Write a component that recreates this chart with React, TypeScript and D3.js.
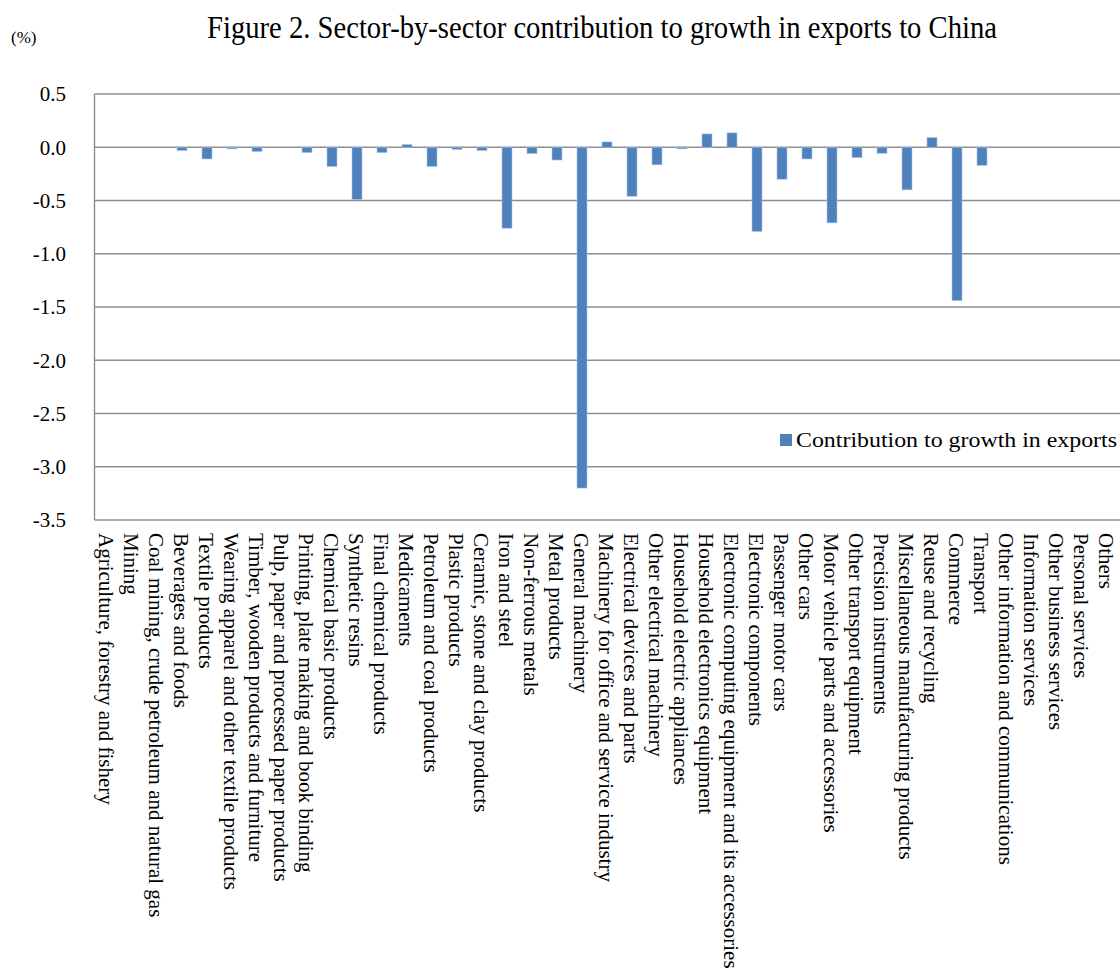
import React from "react";
import * as d3 from "d3";

const categories: string[] = [
  "Agriculture, forestry and fishery",
  "Mining",
  "Coal mining, crude petroleum and natural gas",
  "Beverages and foods",
  "Textile products",
  "Wearing apparel and other textile products",
  "Timber, wooden products and furniture",
  "Pulp, paper and processed paper products",
  "Printing, plate making and book binding",
  "Chemical basic products",
  "Synthetic resins",
  "Final chemical products",
  "Medicaments",
  "Petroleum and coal products",
  "Plastic products",
  "Ceramic, stone and clay products",
  "Iron and steel",
  "Non-ferrous metals",
  "Metal products",
  "General machinery",
  "Machinery for office and service industry",
  "Electrical devices and parts",
  "Other electrical machinery",
  "Household electric appliances",
  "Household electronics equipment",
  "Electronic computing equipment and its accessories",
  "Electronic components",
  "Passenger motor cars",
  "Other cars",
  "Motor vehicle parts and accessories",
  "Other transport equipment",
  "Precision instruments",
  "Miscellaneous manufacturing products",
  "Reuse and recycling",
  "Commerce",
  "Transport",
  "Other information and communications",
  "Information services",
  "Other business services",
  "Personal services",
  "Others",
];

const contribution: number[] = [
  0, 0, 0, -0.03, -0.11, -0.015, -0.04, 0, -0.05, -0.18,
  -0.49, -0.05, 0.025, -0.18, -0.02, -0.03, -0.76, -0.06, -0.12, -3.2,
  0.05, -0.46, -0.165, -0.015, 0.125, 0.135, -0.79, -0.3, -0.11, -0.71,
  -0.097, -0.056, -0.4, 0.09, -1.44, -0.17, 0, 0, 0, 0, 0,
];

const yTicks: number[] = [0.5, 0, -0.5, -1, -1.5, -2, -2.5, -3, -3.5];

const seriesName = "Contribution to growth in exports";
const titleText = "Figure 2. Sector-by-sector contribution to growth in exports to China";
const unitText = "(%)";

const FONT = "'Liberation Serif', 'Times New Roman', serif";

export default function App() {
  const W = 1120;
  const H = 975;
  const left = 94.5;
  const right = 1119.5;
  const top = 94;
  const bottom = 520;

  const xc = d3.scaleBand<string>().domain(categories).range([left, right]);
  const y = d3.scaleLinear().domain([-3.5, 0.5]).range([bottom, top]);
  const fmt = (t: number) => (Math.abs(t) < 1e-9 ? "0.0" : t.toFixed(1));
  const bw = 10;
  const grid = "#8e8e8e";

  return (
    <svg
      width={W}
      height={H}
      style={{ position: "absolute", left: 0, top: 0, background: "#fff" }}
      fontFamily={FONT}
    >
      <rect x={0} y={0} width={W} height={H} fill="#fff" />
      <text x={207} y={38} fontSize={31} textLength={790} lengthAdjust="spacingAndGlyphs" fill="#000">
        {titleText}
      </text>
      <text x={11} y={43} fontSize={17} fill="#000">
        {unitText}
      </text>

      {yTicks.map((t) => (
        <g key={t}>
          <line x1={left} x2={W} y1={y(t)} y2={y(t)} stroke={grid} strokeWidth={1.4} />
          <text x={66} y={y(t)} dy="0.35em" textAnchor="end" fontSize={21} fill="#000">
            {fmt(t)}
          </text>
        </g>
      ))}
      <line x1={left} x2={left} y1={top} y2={bottom} stroke={grid} strokeWidth={1.4} />

      {categories.map((c, i) => {
        const v = contribution[i];
        if (v === 0) return null;
        const cx = (xc(c) as number) + xc.bandwidth() / 2;
        const y0 = y(0);
        const y1 = y(v);
        return (
          <rect
            key={c}
            x={cx - bw / 2}
            y={Math.min(y0, y1)}
            width={bw}
            height={Math.abs(y1 - y0)}
            fill="#4f81bd"
            stroke="#a9c4e6"
            strokeWidth={0.6}
          />
        );
      })}

      {categories.map((c) => {
        const cx = (xc(c) as number) + xc.bandwidth() / 2;
        return (
          <text
            key={c}
            transform={`translate(${cx},533) rotate(90)`}
            y={8}
            fontSize={21}
            fill="#000"
          >
            {c}
          </text>
        );
      })}

      <rect x={780} y={434} width={12} height={12} fill="#4f81bd" />
      <text x={796} y={447} fontSize={22} textLength={321} lengthAdjust="spacingAndGlyphs" fill="#000">
        {seriesName}
      </text>
    </svg>
  );
}
